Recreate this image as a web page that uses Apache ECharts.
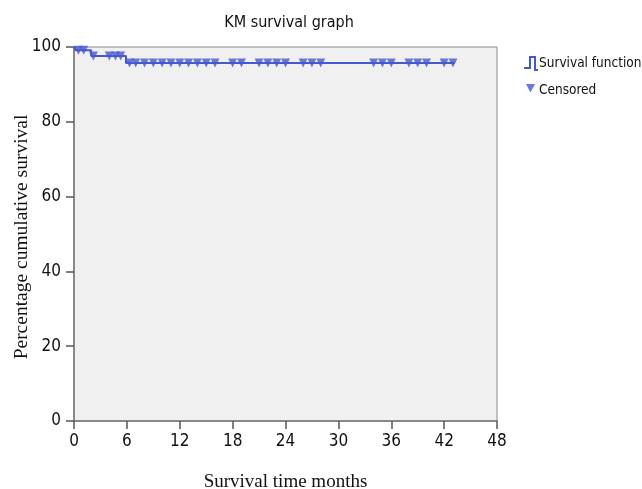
<!DOCTYPE html>
<html><head><meta charset="utf-8">
<script src="https://cdn.jsdelivr.net/npm/echarts@6/dist/echarts.min.js"></script>
<style>html,body{margin:0;padding:0;background:#fff}#c{width:642px;height:489px}</style>
</head><body><div id="c"></div>
<script>
// KM step function: event times (months) and survival (%)
const stepTimes = [0, 0.2, 1.95, 5.9, 43.2];
const stepSurvival = [100, 99.1, 97.6, 95.7, 95.7];
// censored observation times (months)
const censoredTimes = [0.5, 1.1, 2.2, 4.0, 4.7, 5.3,
  6.3, 7, 8, 9, 10, 11, 12, 13, 14, 15, 16,
  18, 19, 21, 22, 23, 24, 26, 27, 28, 34, 35, 36, 38, 39, 40, 42, 43];
const xTicks = [0, 6, 12, 18, 24, 30, 36, 42, 48];
const yTicks = [0, 20, 40, 60, 80, 100];
const yTitle = 'Percentage cumulative survival';

function survAt(t){let v=stepSurvival[0];for(let i=0;i<stepTimes.length;i++){if(stepTimes[i]<=t)v=stepSurvival[i];}return v;}
const stepData = stepTimes.map((t,i)=>[t,stepSurvival[i]]);
const censData = censoredTimes.map(t=>[t,survAt(t)]);

const blue = '#4658d0';
const narrow = '"DejaVu Sans Condensed", "Liberation Sans Narrow", "Liberation Sans", sans-serif';
const serif = '"Liberation Serif", "DejaVu Serif", serif';
const chart = echarts.init(document.getElementById('c'));
chart.setOption({
  animation:false,
  title:{text:'KM survival graph', left:284, top:10, textAlign:'center',
    textStyle:{fontFamily:narrow, fontSize:16, fontWeight:'normal', color:'#111'}},
  legend:{orient:'vertical', left:518, top:51, itemGap:12, itemWidth:16, itemHeight:15,
    textStyle:{fontFamily:narrow, fontSize:13.5, color:'#111', padding:[0,0,0,-5]},
    data:[
      {name:'Survival function', icon:'path://M0,11 L5,11 L5,0 L12,0 L12,13 L14,13 L14,15 L10,15 L10,2 L7,2 L7,13 L0,13 Z'},
      {name:'Censored', icon:'path://M0,0 L0.01,0 L0,0.01 Z M3,1 L12,1 L7.5,9.5 Z M0,15 L0.01,15 L0,14.99 Z M16,0 L15.99,0 L16,0.01 Z'}
    ]},
  graphic:[{type:'text', x:22, y:237, rotation:Math.PI/2,
    style:{text:yTitle, fontFamily:serif, fontSize:19.5, fill:'#111', align:'center', verticalAlign:'middle'}}],
  grid:{left:74, right:145, top:47, bottom:68, outerBoundsMode:'none', containLabel:false,
    show:true, backgroundColor:'#f0f0f0', borderColor:'#8a8a8a', borderWidth:1},
  xAxis:{type:'value', min:0, max:48, interval:6,
    name:'Survival time months', nameLocation:'middle', nameGap:52,
    nameTextStyle:{fontFamily:serif, fontSize:19, color:'#111'},
    axisLine:{show:true, onZero:false, lineStyle:{color:'#777', width:1.5}},
    axisTick:{show:true, length:8, lineStyle:{color:'#555', width:1.5}},
    axisLabel:{fontFamily:narrow, fontSize:17, color:'#111', margin:12,
      formatter:v=>xTicks.includes(v)?String(v):''},
    splitLine:{show:false}},
  yAxis:{type:'value', min:0, max:100, interval:20,
    axisLine:{show:true, onZero:false, lineStyle:{color:'#777', width:1.5}},
    axisTick:{show:true, length:8, lineStyle:{color:'#555', width:1.5}},
    axisLabel:{fontFamily:narrow, fontSize:17, color:'#111', margin:13,
      formatter:v=>yTicks.includes(v)?String(v):''},
    splitLine:{show:false}},
  series:[
    {name:'Survival function', type:'line', step:'end', data:stepData, showSymbol:false,
      symbol:'none', lineStyle:{color:blue, width:2}, itemStyle:{color:blue}},
    {name:'Censored', type:'scatter', data:censData, symbol:'triangle', symbolRotate:180,
      symbolSize:9, itemStyle:{color:blue}}
  ]
});
</script></body></html>
